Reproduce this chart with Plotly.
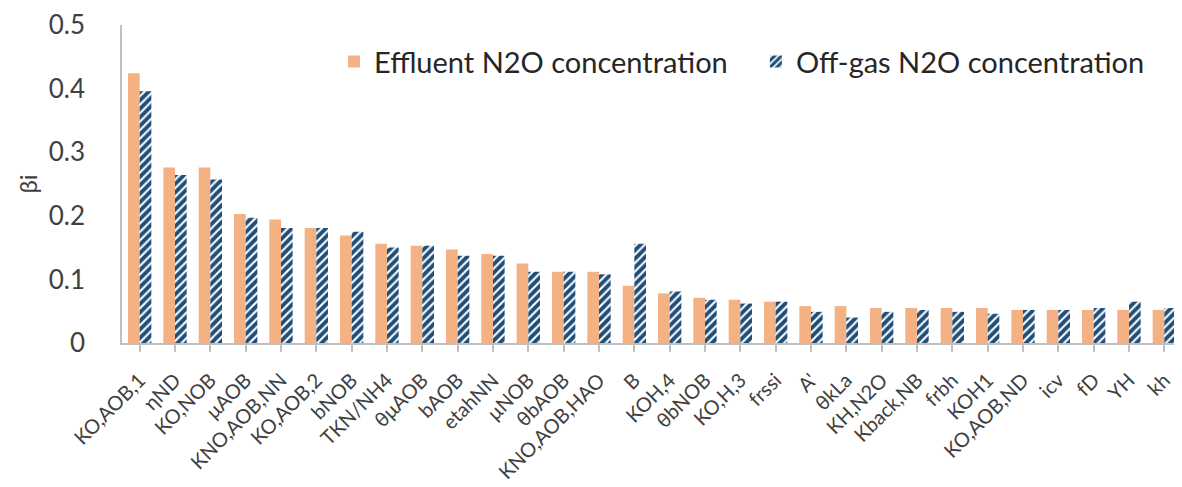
import plotly.graph_objects as go

categories = ["KO,AOB,1", "ηND", "KO,NOB", "μAOB", "KNO,AOB,NN", "KO,AOB,2", "bNOB",
              "TKN/NH4", "θμAOB", "bAOB", "etahNN", "μNOB", "θbAOB", "KNO,AOB,HAO",
              "B", "KOH,4", "θbNOB", "KO,H,3", "frssi", "A'", "θkLa", "KH,N2O",
              "Kback,NB", "frbh", "KOH1", "KO,AOB,ND", "icv", "fD", "YH", "kh"]
effluent = [0.424, 0.276, 0.276, 0.203, 0.194, 0.181, 0.169, 0.156, 0.153, 0.147,
            0.140, 0.125, 0.112, 0.112, 0.090, 0.078, 0.071, 0.068, 0.065, 0.058,
            0.058, 0.055, 0.055, 0.055, 0.055, 0.052, 0.052, 0.052, 0.052, 0.052]
offgas = [0.396, 0.264, 0.257, 0.197, 0.181, 0.181, 0.175, 0.150, 0.153, 0.137,
          0.137, 0.112, 0.112, 0.108, 0.156, 0.081, 0.068, 0.062, 0.065, 0.049,
          0.040, 0.049, 0.052, 0.049, 0.046, 0.052, 0.052, 0.055, 0.065, 0.055]
yticks = [0, 0.1, 0.2, 0.3, 0.4, 0.5]
yticklabels = ["0", "0.1", "0.2", "0.3", "0.4", "0.5"]

FONT = "Lato"
AXIS_GREY = "#BFBFBF"
LEGEND_FONT = dict(size=29, family=FONT, color="#262626")

fig = go.Figure()
fig.add_trace(go.Bar(x=categories, y=effluent, name="Effluent N2O concentration",
                     legend="legend",
                     marker=dict(color="#F4B183", line=dict(width=0))))
fig.add_trace(go.Bar(x=categories, y=offgas, name="Off-gas N2O concentration",
                     legend="legend2",
                     marker=dict(color="#FFFFFF", line=dict(width=0),
                                 pattern=dict(shape="/", fgcolor="#1F4E79", bgcolor="#FFFFFF",
                                              fgopacity=1, size=6, solidity=0.65))))

# the page body adds an 8px margin, so the figure is sized to fit inside it
fig.update_layout(
    width=1174, height=479,
    margin=dict(l=114, r=0, t=17, b=144),
    paper_bgcolor="white", plot_bgcolor="white",
    barmode="group", bargap=0.34, bargroupgap=0,
    font=dict(family=FONT, color="#404040"),
    showlegend=True,
    legend=dict(x=0.2, y=0.965, xanchor="left", yanchor="top", font=LEGEND_FONT,
                itemwidth=30, bgcolor="rgba(0,0,0,0)"),
    legend2=dict(x=0.598, y=0.965, xanchor="left", yanchor="top", font=LEGEND_FONT,
                 itemwidth=30, bgcolor="rgba(0,0,0,0)"),
    xaxis=dict(type="category", tickangle=-45,
               tickfont=dict(size=20, family=FONT, color="#404040"),
               showline=True, linecolor=AXIS_GREY, linewidth=1.5,
               ticks="outside", ticklen=7, tickcolor=AXIS_GREY, tickwidth=1.5,
               ticklabelstandoff=9,
               showgrid=False, range=[-0.5, len(categories) - 0.5], automargin=False),
    xaxis2=dict(type="category", overlaying="x", anchor="y", side="bottom",
                categoryorder="array", categoryarray=categories,
                range=[-0.5, len(categories) - 0.5], tickson="boundaries",
                ticks="inside", ticklen=7, tickcolor=AXIS_GREY, tickwidth=1.5,
                showticklabels=False, showgrid=False, showline=False, automargin=False),
    yaxis=dict(range=[0, 0.5], tickvals=yticks, ticktext=yticklabels,
               tickfont=dict(size=26, family=FONT, color="#404040"),
               showline=True, linecolor=AXIS_GREY, linewidth=1.5,
               showgrid=False, zeroline=False, ticks="", ticklabelstandoff=30,
               automargin=False,
               title=dict(text="βi", font=dict(size=24, family=FONT, color="#404040"),
                          standoff=4)),
)

fig.write_html("out.html")
